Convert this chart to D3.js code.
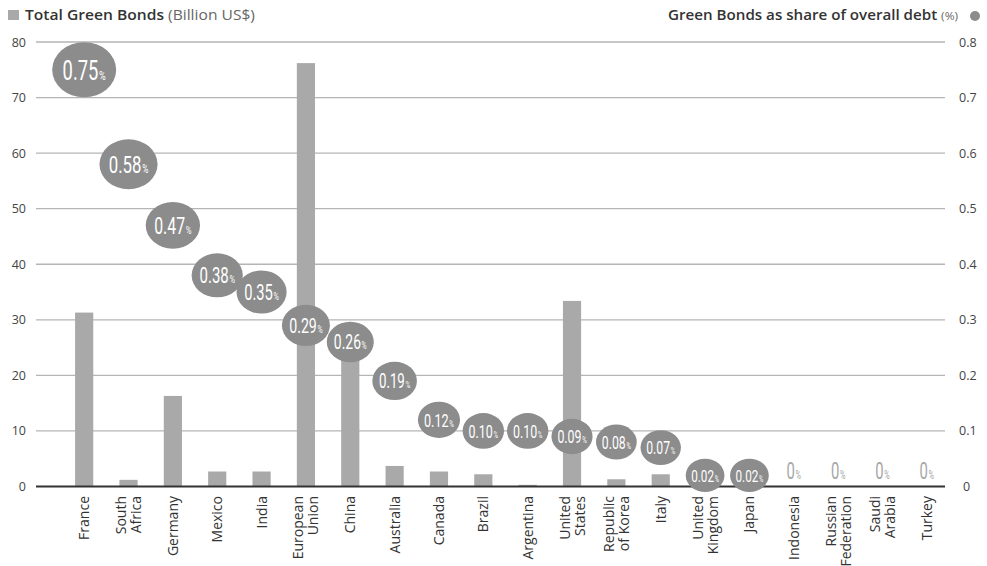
<!DOCTYPE html>
<html><head><meta charset="utf-8">
<script src="https://cdn.jsdelivr.net/npm/d3@7"></script>
<style>
body{margin:0;background:#fff;}
svg{display:block;}
</style></head>
<body>
<svg id="c" width="987" height="566"></svg>
<script>
const countries = ["France","South Africa","Germany","Mexico","India","European Union","China","Australia","Canada","Brazil","Argentina","United States","Republic of Korea","Italy","United Kingdom","Japan","Indonesia","Russian Federation","Saudi Arabia","Turkey"];
const labelLines = [["France"],["South","Africa"],["Germany"],["Mexico"],["India"],["European","Union"],["China"],["Australia"],["Canada"],["Brazil"],["Argentina"],["United","States"],["Republic","of Korea"],["Italy"],["United","Kingdom"],["Japan"],["Indonesia"],["Russian","Federation"],["Saudi","Arabia"],["Turkey"]];
const greenBonds = [31.3, 1.2, 16.3, 2.7, 2.7, 76.2, 25.5, 3.7, 2.7, 2.2, 0.3, 33.4, 1.3, 2.2, 1.0, 1.0, 0, 0, 0, 0];
const shareDebt = [0.75, 0.58, 0.47, 0.38, 0.35, 0.29, 0.26, 0.19, 0.12, 0.10, 0.10, 0.09, 0.08, 0.07, 0.02, 0.02, 0, 0, 0, 0];
const shareLabels = ["0.75","0.58","0.47","0.38","0.35","0.29","0.26","0.19","0.12","0.10","0.10","0.09","0.08","0.07","0.02","0.02","0","0","0","0"];
const leftTicks = [0,10,20,30,40,50,60,70,80];
const rightTicks = [0,0.1,0.2,0.3,0.4,0.5,0.6,0.7,0.8];

const svg = d3.select("#c");
const font = "'Open Sans',sans-serif";
const condensed = "'Roboto','Open Sans',sans-serif";

const x = d3.scaleBand().domain(countries).range([62, 949]).paddingInner(0.59).paddingOuter(0.295);
const yL = d3.scaleLinear().domain([0,80]).range([486.5, 42]);
const yR = d3.scaleLinear().domain([0,0.8]).range([486.5, 42]);
const r = d3.scaleLinear().domain([0,0.75]).range([19,32]);

const gx0 = 36, gx1 = 945;

// gridlines
svg.append("g").selectAll("line").data(leftTicks.filter(d=>d>0)).join("line")
  .attr("x1",gx0).attr("x2",gx1).attr("y1",d=>yL(d)).attr("y2",d=>yL(d))
  .attr("stroke","#b5b5b5").attr("stroke-width",1.3);

// left axis labels
const axL = d3.axisLeft(yL).tickValues(leftTicks).tickSize(0).tickPadding(0);
svg.append("g").attr("transform","translate(26,0)").call(axL)
  .call(g=>g.select(".domain").remove())
  .selectAll("text").attr("font-family","'Open Sans',sans-serif").attr("font-size",12.5).attr("fill","#444");

const axR = d3.axisRight(yR).tickValues(rightTicks).tickSize(0).tickPadding(0)
  .tickFormat(d=> d===0 ? "0" : d3.format(".1f")(d));
svg.append("g").attr("transform","translate(959,0)").call(axR)
  .call(g=>g.select(".domain").remove())
  .selectAll("text").attr("font-family","'Open Sans',sans-serif").attr("font-size",12.5).attr("fill","#444")
  .attr("x", d=> d===0 ? 4 : 0);

// bars
svg.append("g").selectAll("rect").data(countries).join("rect")
  .attr("x",d=>x(d)).attr("width",x.bandwidth())
  .attr("y",(d,i)=>yL(greenBonds[i])).attr("height",(d,i)=>yL(0)-yL(greenBonds[i]))
  .attr("fill","#a9a9a9");

// baseline
svg.append("line").attr("x1",gx0).attr("x2",gx1).attr("y1",yL(0)).attr("y2",yL(0))
  .attr("stroke","#333").attr("stroke-width",2);

// bubbles
const bub = svg.append("g").selectAll("g").data(countries).join("g")
  .attr("transform",(d,i)=>`translate(${x(d)+x.bandwidth()/2},${yR(shareDebt[i])})`);
bub.filter((d,i)=>shareDebt[i]>0).append("ellipse")
  .attr("rx",(d,i)=>r(shareDebt[i])).attr("ry",(d,i)=>r(shareDebt[i])*0.86)
  .attr("fill","#8c8c8c");
bub.each(function(d,i){
  const g = d3.select(this);
  const v = shareDebt[i];
  if (v>0){
    const big = 17 + 10*(r(v)-19)/13;
    const t = g.append("text").attr("text-anchor","middle")
      .attr("font-family",condensed).attr("fill","#fff")
      .attr("transform","scale(0.68,1)").attr("dy", big*0.36);
    t.append("tspan").attr("font-size", big).text(shareLabels[i]);
    t.append("tspan").attr("font-size", big*0.5).attr("dx",1).text("%");
  } else {
    const t = g.append("text").attr("text-anchor","middle")
      .attr("font-family",condensed).attr("fill","#a8a8a8")
      .attr("transform","translate(0,-8) scale(0.62,1)");
    t.append("tspan").attr("font-size", 24).text(shareLabels[i]);
    t.append("tspan").attr("font-size", 12).attr("dx",1).text("%");
  }
});

// x labels
const xl = svg.append("g").selectAll("text").data(countries).join("text")
  .attr("transform",d=>`translate(${x(d)+x.bandwidth()/2},496) rotate(-90)`)
  .attr("text-anchor","end").attr("font-family",font).attr("font-size",14).attr("fill","#333");
xl.each(function(d,i){
  const lines = labelLines[i];
  const n = lines.length;
  d3.select(this).selectAll("tspan").data(lines).join("tspan")
    .attr("x",0).attr("y",(l,j)=> (j-(n-1)/2)*15 + 5).text(l=>l);
});

// legends
svg.append("rect").attr("x",8).attr("y",10).attr("width",11).attr("height",10).attr("fill","#a9a9a9");
const lt = svg.append("text").attr("x",25).attr("y",20).attr("font-family","'Open Sans',sans-serif").attr("font-size",14).attr("fill","#333")
  .attr("textLength",230).attr("lengthAdjust","spacingAndGlyphs");
lt.append("tspan").attr("font-weight","600").text("Total Green Bonds ");
lt.append("tspan").attr("fill","#666").text("(Billion US$)");

const rt = svg.append("text").attr("x",668).attr("y",20).attr("font-family","'Open Sans',sans-serif").attr("font-size",14).attr("fill","#333")
  .attr("textLength",290).attr("lengthAdjust","spacingAndGlyphs");
rt.append("tspan").attr("font-weight","600").text("Green Bonds as share of overall debt ");
rt.append("tspan").attr("fill","#666").attr("font-size",11).text("(%)");
svg.append("circle").attr("cx",975).attr("cy",16).attr("r",5).attr("fill","#8c8c8c");
</script>
</body></html>
